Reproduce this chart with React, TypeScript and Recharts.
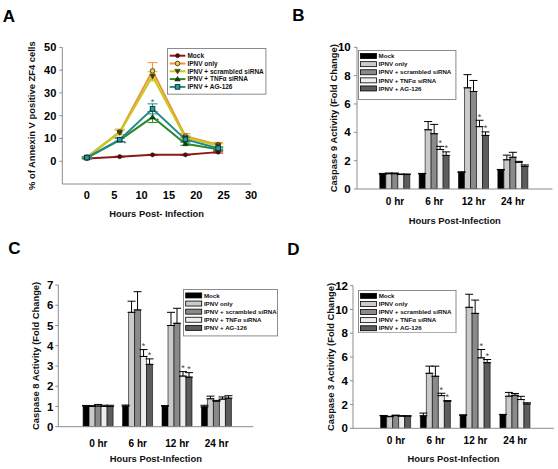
import React from 'react';
import {
  LineChart, Line, BarChart, Bar, XAxis, YAxis, ErrorBar, Legend, LabelList, Label,
} from 'recharts';

const FONT = '"Liberation Sans", Arial, Helvetica, sans-serif';
const AXIS = '#8c8c8c';

const seriesNames = ['Mock', 'IPNV only', 'IPNV + scrambled siRNA', 'IPNV + TNFα siRNA', 'IPNV + AG-126'];
const seriesKeys = ['mock', 'ipnv', 'scr', 'tnf', 'ag'];
const lineColors = ['#8b1a1a', '#f0923a', '#c8c81e', '#2a8a2a', '#1f8b8b'];
const barColors = ['#000000', '#cacaca', '#8a8a8a', '#eeeeee', '#5c5c5c'];

// ---------- Panel A (Annexin V, line chart) ----------
const hoursA = [0, 6, 12, 18, 24];
const xTicksA = [0, 5, 10, 15, 20, 25, 30];
const yTicksA = [0, 10, 20, 30, 40, 50];
const mockA = [1.2, 2.0, 2.8, 2.8, 4.0];
const ipnvA = [1.8, 12.9, 39.7, 11.0, 7.3];
const scrA = [1.7, 12.6, 37.3, 10.4, 6.9];
const tnfA = [1.5, 9.3, 19.4, 7.7, 5.3];
const agA = [1.6, 9.5, 23.0, 9.6, 5.7];
const mockErrA = [0.2, 0.2, 0.2, 0.2, 0.4];
const ipnvErrA = [0.3, 1.2, 3.6, 1.2, 1.0];
const scrErrA = [0.3, 1.0, 2.0, 1.0, 0.8];
const tnfErrA = [0.3, 0.8, 2.4, 0.7, 0.5];
const agErrA = [0.3, 0.8, 2.2, 1.0, 0.6];
const tnfStarHoursA = [6, 12];
const agStarHoursA = [12];

// ---------- Bar panels ----------
const barCats = ['0 hr', '6 hr', '12 hr', '24 hr'];
const starCats = ['6 hr', '12 hr'];

// Caspase 9 (B)
const c9Mock = [1.05, 1.07, 1.18, 1.35];
const c9Ipnv = [1.08, 4.18, 7.14, 2.06];
const c9Scr = [1.08, 3.9, 6.88, 2.24];
const c9Tnf = [1.02, 2.79, 4.4, 1.88];
const c9Ag = [1.02, 2.37, 3.78, 1.6];
const c9MockErr = [0.05, 0.03, 0.03, 0.03];
const c9IpnvErr = [0.05, 0.58, 0.93, 0.33];
const c9ScrErr = [0.05, 0.66, 0.78, 0.35];
const c9TnfErr = [0.04, 0.22, 0.45, 0.07];
const c9AgErr = [0.04, 0.25, 0.25, 0.1];
const c9Ticks = [0, 2, 4, 6, 8, 10];

// Caspase 8 (C)
const c8Mock = [1.02, 1.02, 1.02, 0.98];
const c8Ipnv = [1.0, 5.65, 5.0, 1.38];
const c8Scr = [1.02, 5.77, 5.11, 1.26];
const c8Tnf = [1.0, 3.47, 2.5, 1.36];
const c8Ag = [1.0, 3.08, 2.45, 1.41];
const c8MockErr = [0.03, 0.05, 0.02, 0.08];
const c8IpnvErr = [0.04, 0.55, 0.65, 0.13];
const c8ScrErr = [0.08, 0.9, 0.74, 0.04];
const c8TnfErr = [0.06, 0.34, 0.22, 0.11];
const c8AgErr = [0.06, 0.27, 0.22, 0.12];
const c8Ticks = [0, 1, 2, 3, 4, 5, 6, 7];

// Caspase 3 (D)
const c3Mock = [1.05, 1.05, 1.1, 1.15];
const c3Ipnv = [0.98, 4.63, 10.18, 2.7];
const c3Scr = [1.07, 4.38, 9.67, 2.78];
const c3Tnf = [1.02, 2.75, 5.93, 2.42];
const c3Ag = [1.02, 2.28, 5.52, 2.05];
const c3MockErr = [0.03, 0.23, 0.03, 0.02];
const c3IpnvErr = [0.03, 0.6, 1.1, 0.32];
const c3ScrErr = [0.04, 0.85, 1.12, 0.15];
const c3TnfErr = [0.04, 0.2, 0.7, 0.27];
const c3AgErr = [0.04, 0.05, 0.27, 0.1];
const c3Ticks = [0, 2, 4, 6, 8, 10, 12];

// ---------- helpers ----------
const dotKinds = ['dot', 'ring', 'triDown', 'triUp', 'square'];
const dotFills = ['#4a0c0c', '#f3c55c', '#3c3c10', '#103f10', '#2a9a9a'];
const dotStrokes = ['#4a0c0c', '#4a3a10', '#3c3c10', '#103f10', '#0a3030'];

function drawMarker(kind: string, cx: number, cy: number, fill: string, stroke: string, key: string) {
  switch (kind) {
    case 'dot':
      return <circle key={key} cx={cx} cy={cy} r={2.1} fill={fill} stroke={stroke} strokeWidth={0.5} />;
    case 'ring':
      return <circle key={key} cx={cx} cy={cy} r={2.3} fill={fill} stroke={stroke} strokeWidth={0.9} />;
    case 'triDown':
      return <path key={key} d={`M${cx - 2.8},${cy - 2} L${cx + 2.8},${cy - 2} L${cx},${cy + 2.8} Z`} fill={fill} stroke={stroke} strokeWidth={0.5} />;
    case 'triUp':
      return <path key={key} d={`M${cx - 2.8},${cy + 2} L${cx + 2.8},${cy + 2} L${cx},${cy - 2.8} Z`} fill={fill} stroke={stroke} strokeWidth={0.5} />;
    default:
      return <rect key={key} x={cx - 2.3} y={cy - 2.3} width={4.6} height={4.6} fill={fill} stroke={stroke} strokeWidth={0.9} />;
  }
}

const makeDot = (j: number) => (p: any) => {
  const { cx, cy, index } = p;
  const key = `dot-${j}-${index}`;
  if (cx == null || cy == null || isNaN(cx) || isNaN(cy)) return <g key={key} />;
  return drawMarker(dotKinds[j], cx, cy, dotFills[j], dotStrokes[j], key);
};

type LegendCfg = {
  width: number; height: number; padTop: number; padLeft: number; rowH: number;
  swW: number; gap: number; fontSize: number; kind: 'line' | 'bar';
};

function LegendBox({ cfg }: { cfg: LegendCfg }) {
  const { width, height, padTop, padLeft, rowH, swW, gap, fontSize, kind } = cfg;
  return (
    <svg width={width} height={height} style={{ display: 'block' }}>
      <rect x={0.5} y={0.5} width={width - 1} height={height - 1} fill="#fff" stroke={AXIS} strokeWidth={1} />
      {seriesNames.map((name, j) => {
        const cy = padTop + rowH * (j + 0.5);
        return (
          <g key={name}>
            {kind === 'bar' ? (
              <rect x={padLeft} y={cy - 2.5} width={swW} height={5} fill={barColors[j]} stroke="#000" strokeWidth={0.8} />
            ) : (
              <g>
                <line x1={padLeft} x2={padLeft + swW} y1={cy} y2={cy} stroke={lineColors[j]} strokeWidth={2} />
                {drawMarker(dotKinds[j], padLeft + swW / 2, cy, dotFills[j], dotStrokes[j], `lm${j}`)}
              </g>
            )}
            <text x={padLeft + swW + gap} y={cy} dy="0.36em" fontSize={fontSize} fontWeight="bold" fontFamily={FONT} fill="#111">
              {name}
            </text>
          </g>
        );
      })}
    </svg>
  );
}

const tickStyle = (size: number) => ({ fontSize: size, fontWeight: 'bold', fill: '#000', fontFamily: FONT });
const titleStyle = { fontSize: 9.4, fontWeight: 'bold', fill: '#111', fontFamily: FONT };

// ---------- Panel A ----------
function PanelA() {
  const rows = hoursA.map((h, i) => ({
    h,
    mock: mockA[i], ipnv: ipnvA[i], scr: scrA[i], tnf: tnfA[i], ag: agA[i],
    mockErr: mockErrA[i], ipnvErr: ipnvErrA[i], scrErr: scrErrA[i], tnfErr: tnfErrA[i], agErr: agErrA[i],
    agStar: agStarHoursA.includes(h) ? agA[i] + agErrA[i] : null,
  }));
  const tnfStar = (p: any) => {
    const vb = p.viewBox || {};
    const x = p.x ?? vb.x;
    const y = p.y ?? vb.y;
    if (!tnfStarHoursA.includes(hoursA[p.index]) || x == null) return null;
    return <text key={`ts${p.index}`} x={x + 5} y={y + 6} textAnchor="middle" fontSize={8} fill="#555" fontFamily={FONT}>*</text>;
  };
  const agStar = (p: any) => {
    const vb = p.viewBox || {};
    const x = p.x ?? vb.x;
    const y = p.y ?? vb.y;
    if (x == null || y == null || p.value == null) return null;
    return <text key={`as${p.index}`} x={x} y={y + 1.3} textAnchor="middle" fontSize={9} fill="#555" fontFamily={FONT}>*</text>;
  };
  const legendCfg: LegendCfg = { width: 99.4, height: 46.7, padTop: 3.8, padLeft: 2.7, rowH: 7.8, swW: 15.7, gap: 2, fontSize: 6.5, kind: 'line' };
  return (
    <div style={{ position: 'absolute', left: 0, top: 0 }}>
      <LineChart width={279} height={230} data={rows} margin={{ top: 47.4, right: 28, left: 10, bottom: 0 }}>
        <XAxis
          type="number" dataKey="h" domain={[-4.5, 30]} ticks={xTicksA} height={46} allowDataOverflow
          axisLine={{ stroke: AXIS }} tickLine={false} tickSize={0} tickMargin={7.5} tick={tickStyle(11)} interval={0}
        >
          <Label value="Hours Post- Infection" position="insideBottom" offset={13.5} style={titleStyle} />
        </XAxis>
        <YAxis
          type="number" domain={[-10, 50]} ticks={yTicksA} width={52.3} allowDataOverflow
          axisLine={{ stroke: AXIS }} tickLine={{ stroke: AXIS }} tickSize={3} tickMargin={3} tick={tickStyle(11)} interval={0}
        >
          <Label value="% of Annexin V positive ZF4 cells" angle={-90} position="insideLeft" offset={22} style={{ ...titleStyle, textAnchor: 'middle' }} />
        </YAxis>
        <Legend
          layout="vertical" align="center" verticalAlign="middle"
          wrapperStyle={{ left: 167.3, top: 48.3, width: legendCfg.width, height: legendCfg.height, margin: 0, padding: 0 }}
          content={() => <LegendBox cfg={legendCfg} />}
        />
        {seriesKeys.map((k, j) => (
          <Line
            key={k} dataKey={k} type="linear" stroke={lineColors[j]} strokeWidth={2}
            dot={makeDot(j)} activeDot={false} isAnimationActive={false}
          >
            <ErrorBar dataKey={`${k}Err`} width={5} stroke={lineColors[j]} strokeWidth={1} direction="y" isAnimationActive={false} />
            {k === 'tnf' ? <LabelList dataKey="tnf" content={tnfStar} /> : null}
          </Line>
        ))}
        <Line dataKey="agStar" stroke="none" dot={false} activeDot={false} isAnimationActive={false} legendType="none">
          <LabelList dataKey="agStar" content={agStar} />
        </Line>
      </LineChart>
    </div>
  );
}

// ---------- Bar panels ----------
type BarPanelCfg = {
  left: number; top: number; width: number; height: number;
  margin: { top: number; right: number; bottom: number; left: number };
  xAxisHeight: number; pad: { left: number; right: number };
  yMax: number; yTicks: number[]; yTitle: string; yTitleOffset: number;
  xTickMargin: number; yTickMargin: number; xTitleOffset: number;
  legendLeft: number; legendTop: number; legend: LegendCfg;
  vals: number[][]; errs: number[][];
};

function BarPanel({ cfg }: { cfg: BarPanelCfg }) {
  const rows = barCats.map((cat, i) => {
    const row: any = { cat };
    seriesKeys.forEach((k, j) => {
      row[k] = cfg.vals[j][i];
      row[`${k}Err`] = [0, cfg.errs[j][i]];
    });
    return row;
  });
  const star = (errs: number[]) => (p: any) => {
    const vb = p.viewBox || p;
    const idx = p.index;
    if (!starCats.includes(barCats[idx])) return null;
    const x = Number(vb.x ?? p.x);
    const y = Number(vb.y ?? p.y);
    const w = Number(vb.width ?? p.width);
    const h = Number(vb.height ?? p.height);
    const v = Number(p.value);
    if (!isFinite(x) || !isFinite(y) || !v) return null;
    const top = y - errs[idx] * (h / v);
    return <text key={`st${idx}`} x={x + w / 2} y={top - 0.4} textAnchor="middle" fontSize={9} fill="#444" fontFamily={FONT}>*</text>;
  };
  return (
    <div style={{ position: 'absolute', left: cfg.left, top: cfg.top }}>
      <BarChart width={cfg.width} height={cfg.height} data={rows} margin={cfg.margin} barCategoryGap={4.5} barGap={0}>
        <XAxis
          dataKey="cat" type="category" height={cfg.xAxisHeight} padding={cfg.pad} interval={0}
          axisLine={{ stroke: AXIS }} tickLine={false} tickSize={0} tickMargin={cfg.xTickMargin} tick={tickStyle(10)}
        >
          <Label value="Hours Post-Infection" position="insideBottom" offset={cfg.xTitleOffset} style={titleStyle} />
        </XAxis>
        <XAxis
          xAxisId="top" dataKey="cat" type="category" orientation="top" height={0} padding={cfg.pad}
          axisLine={{ stroke: AXIS }} tickLine={false} tick={false}
        />
        <YAxis
          type="number" domain={[0, cfg.yMax]} ticks={cfg.yTicks} width={40} interval={0} allowDataOverflow
          axisLine={{ stroke: AXIS }} tickLine={{ stroke: AXIS }} tickSize={3} tickMargin={cfg.yTickMargin} tick={tickStyle(11.5)}
        >
          <Label value={cfg.yTitle} angle={-90} position="insideLeft" offset={cfg.yTitleOffset} style={{ ...titleStyle, textAnchor: 'middle' }} />
        </YAxis>
        <YAxis
          yAxisId="right" orientation="right" type="number" domain={[0, 1]} width={0}
          axisLine={{ stroke: AXIS }} tickLine={false} tick={false}
        />
        <Legend
          layout="vertical" align="center" verticalAlign="middle"
          wrapperStyle={{ left: cfg.legendLeft, top: cfg.legendTop, width: cfg.legend.width, height: cfg.legend.height, margin: 0, padding: 0 }}
          content={() => <LegendBox cfg={cfg.legend} />}
        />
        {seriesKeys.map((k, j) => (
          <Bar key={k} dataKey={k} fill={barColors[j]} stroke="#000" strokeWidth={0.6} isAnimationActive={false}>
            <ErrorBar dataKey={`${k}Err`} width={4} stroke="#000" strokeWidth={1} direction="y" isAnimationActive={false} />
            {j >= 3 ? <LabelList dataKey={k} content={star(cfg.errs[j])} /> : null}
          </Bar>
        ))}
      </BarChart>
    </div>
  );
}

const barLegend = (width: number, height: number, padTop: number, padLeft: number): LegendCfg => ({
  width, height, padTop, padLeft, rowH: 8.1, swW: 16, gap: 2.2, fontSize: 6.2, kind: 'bar',
});

const panelB: BarPanelCfg = {
  left: 279, top: 0, width: 279, height: 230,
  margin: { top: 47.3, right: 5.5, bottom: 0, left: 38 },
  xAxisHeight: 41, pad: { left: 18.3, right: 19.8 },
  yMax: 10, yTicks: c9Ticks, yTitle: 'Caspase 9 Activity (Fold Change)', yTitleOffset: 17,
  xTickMargin: 9.3, yTickMargin: 3.3, xTitleOffset: 6.5,
  legendLeft: 79.3, legendTop: 50, legend: barLegend(98.4, 50, 2, 2.4),
  vals: [c9Mock, c9Ipnv, c9Scr, c9Tnf, c9Ag],
  errs: [c9MockErr, c9IpnvErr, c9ScrErr, c9TnfErr, c9AgErr],
};

const panelC: BarPanelCfg = {
  left: 0, top: 230, width: 279, height: 239,
  margin: { top: 55, right: 25.7, bottom: 0, left: 18.3 },
  xAxisHeight: 42.3, pad: { left: 20.3, right: 16.9 },
  yMax: 7, yTicks: c8Ticks, yTitle: 'Caspase 8 Activity (Fold Change)', yTitleOffset: 17.7,
  xTickMargin: 12.7, yTickMargin: 2, xTitleOffset: 7,
  legendLeft: 183.3, legendTop: 59.3, legend: barLegend(95, 47.4, 2.4, 2.7),
  vals: [c8Mock, c8Ipnv, c8Scr, c8Tnf, c8Ag],
  errs: [c8MockErr, c8IpnvErr, c8ScrErr, c8TnfErr, c8AgErr],
};

const panelD: BarPanelCfg = {
  left: 279, top: 230, width: 279, height: 239,
  margin: { top: 55.7, right: 4, bottom: 0, left: 34 },
  xAxisHeight: 40.7, pad: { left: 23.1, right: 18.8 },
  yMax: 12, yTicks: c3Ticks, yTitle: 'Caspase 3 Activity (Fold Change)', yTitleOffset: 18,
  xTickMargin: 8.4, yTickMargin: 2, xTitleOffset: 7.5,
  legendLeft: 79, legendTop: 60, legend: barLegend(98.5, 43.3, 1.8, 2.5),
  vals: [c3Mock, c3Ipnv, c3Scr, c3Tnf, c3Ag],
  errs: [c3MockErr, c3IpnvErr, c3ScrErr, c3TnfErr, c3AgErr],
};

const panelLetters = [
  { t: 'A', x: 2.7, y: 21.7 },
  { t: 'B', x: 292.3, y: 20.7 },
  { t: 'C', x: 8.3, y: 254 },
  { t: 'D', x: 287.3, y: 255 },
];

export default function App() {
  return (
    <div style={{ position: 'absolute', left: 0, top: 0, width: 558, height: 469, background: '#fff', overflow: 'hidden' }}>
      <PanelA />
      <BarPanel cfg={panelB} />
      <BarPanel cfg={panelC} />
      <BarPanel cfg={panelD} />
      <svg width={558} height={469} style={{ position: 'absolute', left: 0, top: 0, pointerEvents: 'none' }}>
        {panelLetters.map((l) => (
          <text key={l.t} x={l.x} y={l.y} fontSize={17} fontWeight="bold" fontFamily={FONT} fill="#000">{l.t}</text>
        ))}
      </svg>
    </div>
  );
}
